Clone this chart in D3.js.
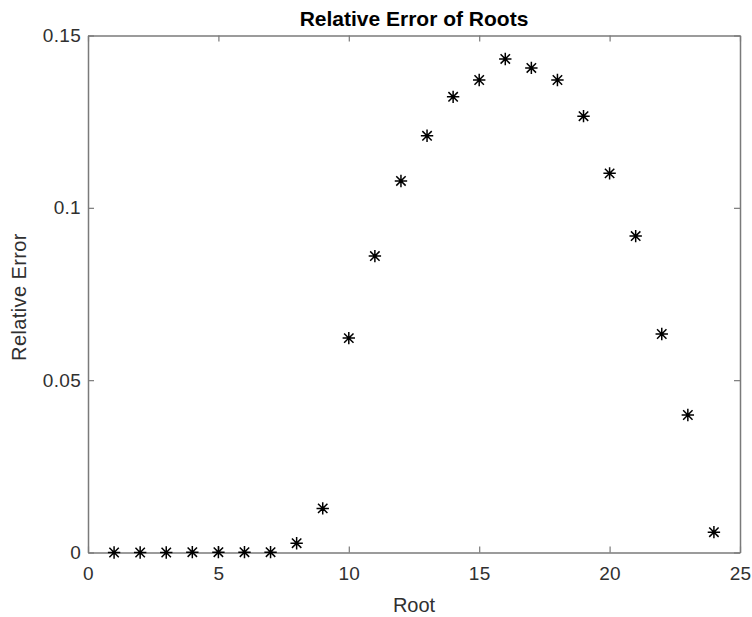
<!DOCTYPE html>
<html>
<head>
<meta charset="UTF-8">
<script src="https://d3js.org/d3.v7.min.js"></script>
<style>
    body { margin: 0; background: #fff; }
    svg { display: block; font-family: "Liberation Sans", Arial, sans-serif; }
</style>
</head>
<body>
<svg width="752" height="617"></svg>
<script>
    const roots = d3.range(1, 25);
    const relErrors = [0, 0, 0, 0.0001, 0.0001, 0.0001, 0.0001, 0.0027, 0.0128, 0.0622,
        0.0860, 0.1078, 0.1209, 0.1322, 0.1371, 0.1432, 0.1406, 0.1371, 0.1266, 0.1100,
        0.0918, 0.0634, 0.0399, 0.0059];
    const xTicks = [0, 5, 10, 15, 20, 25];
    const yTicks = [0, 0.05, 0.1, 0.15];

    const svg = d3.select("svg");
    const margin = { top: 35.5, right: 12, bottom: 64.5, left: 88 };
    const width = 752 - margin.left - margin.right;
    const height = 617 - margin.top - margin.bottom;
    const axisColor = "#7a7a7a";
    const textColor = "#303030";

    const x = d3.scaleLinear().domain([0, 25]).range([margin.left, margin.left + width]);
    const y = d3.scaleLinear().domain([0, 0.15]).range([margin.top + height, margin.top]);

    const yFmt = d => d === 0 ? "0" : String(d);

    // inward ticks on all four sides
    const axes = [
        { a: d3.axisBottom(x).tickValues(xTicks).tickSize(-6).tickPadding(14), t: `translate(0,${y(0)})`, labels: true },
        { a: d3.axisTop(x).tickValues(xTicks).tickSize(-6), t: `translate(0,${y(0.15)})`, labels: false },
        { a: d3.axisLeft(y).tickValues(yTicks).tickSize(-6).tickPadding(7).tickFormat(yFmt), t: `translate(${x(0)},0)`, labels: true },
        { a: d3.axisRight(y).tickValues(yTicks).tickSize(-6), t: `translate(${x(25)},0)`, labels: false }
    ];
    axes.forEach(ax => {
        const g = svg.append("g").attr("transform", ax.t).call(ax.a.tickSizeOuter(0));
        g.select(".domain").attr("stroke", axisColor).attr("stroke-width", 1.5);
        g.selectAll(".tick line").attr("stroke", axisColor).attr("stroke-width", 1.2);
        if (ax.labels) {
            g.selectAll(".tick text").attr("fill", textColor)
                .style("font-size", "19px").style("letter-spacing", "0.3px");
        } else {
            g.selectAll(".tick text").remove();
        }
    });

    // asterisk markers
    const r = 6.2, rd = 4.7;
    const star = `M${-r},0H${r}M0,${-r}V${r}M${-rd},${-rd}L${rd},${rd}M${-rd},${rd}L${rd},${-rd}`;
    svg.append("g").selectAll("path")
        .data(roots)
        .enter()
        .append("path")
        .attr("transform", (d, i) => `translate(${x(d)},${y(relErrors[i])})`)
        .attr("d", star)
        .attr("stroke", "#000")
        .attr("stroke-width", 1.5)
        .attr("fill", "none");

    svg.append("text")
        .attr("x", margin.left + width / 2)
        .attr("y", 26)
        .attr("text-anchor", "middle")
        .attr("fill", "#000")
        .style("font-size", "21px")
        .style("font-weight", "bold")
        .text("Relative Error of Roots");

    svg.append("text")
        .attr("x", margin.left + width / 2)
        .attr("y", 612)
        .attr("text-anchor", "middle")
        .attr("fill", textColor)
        .style("font-size", "20px")
        .text("Root");

    svg.append("text")
        .attr("transform", `translate(26,297) rotate(-90)`)
        .attr("text-anchor", "middle")
        .attr("fill", textColor)
        .style("font-size", "20px")
        .style("letter-spacing", "0.4px")
        .text("Relative Error");
</script>
</body>
</html>
